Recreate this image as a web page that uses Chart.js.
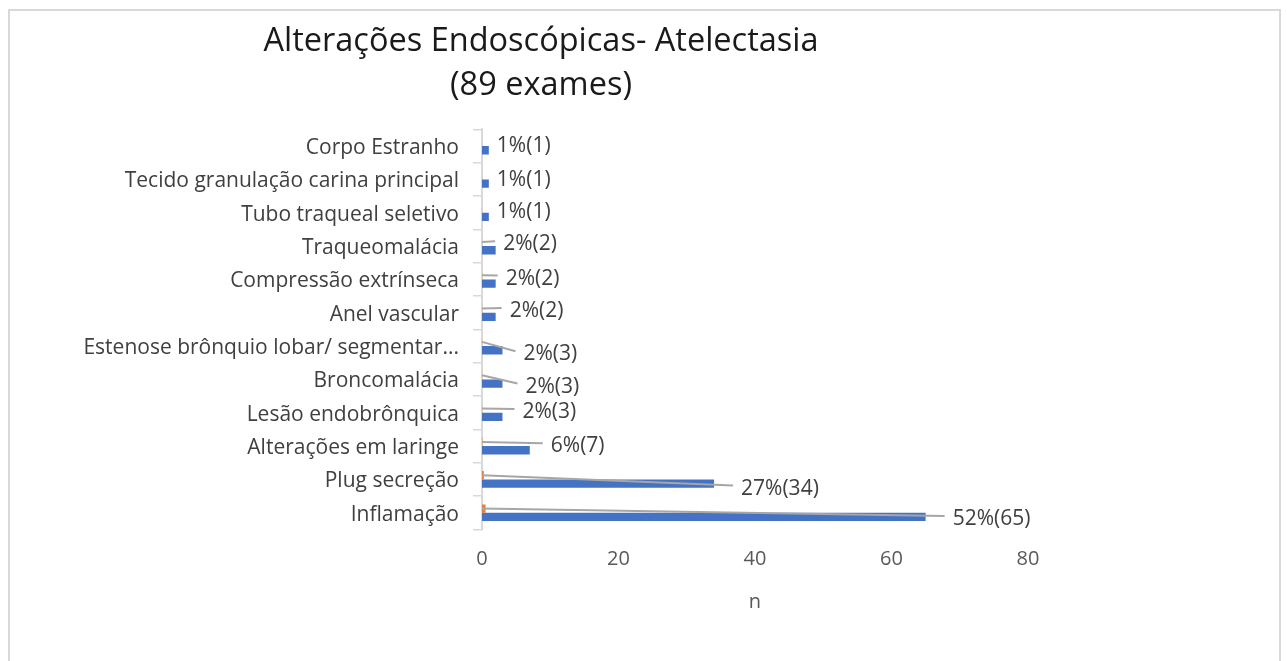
<!DOCTYPE html>
<html>
<head>
<meta charset="utf-8">
<script src="https://cdn.jsdelivr.net/npm/chart.js@4"></script>
<style>
  html, body { margin: 0; padding: 0; background: #ffffff; overflow: hidden; }
  #frame { position: absolute; left: 8px; top: 9px; width: 1273px; height: 700px; border: 2px solid #d9d9d9; box-sizing: border-box; pointer-events: none; }
  #c { position: absolute; left: 0; top: 0; }
</style>
</head>
<body>
<div id="frame"></div>
<canvas id="c" width="1287" height="661"></canvas>
<script>
// ---- data (top-to-bottom order as displayed) ----
const categories = [
  'Corpo Estranho',
  'Tecido granulação carina principal',
  'Tubo traqueal seletivo',
  'Traqueomalácia',
  'Compressão extrínseca',
  'Anel vascular',
  'Estenose brônquio lobar/ segmentar...',
  'Broncomalácia',
  'Lesão endobrônquica',
  'Alterações em laringe',
  'Plug secreção',
  'Inflamação'
];
const counts = [1, 1, 1, 2, 2, 2, 3, 3, 3, 7, 34, 65];
const percentLabels = [1, 1, 1, 2, 2, 2, 2, 2, 2, 6, 27, 52];
const shareSeries = [0.01, 0.01, 0.01, 0.02, 0.02, 0.02, 0.02, 0.02, 0.02, 0.06, 0.27, 0.52];
const xTicks = [0, 20, 40, 60, 80];
const titleLines = ['Alterações Endoscópicas- Atelectasia', '(89 exames)'];
const xAxisTitle = 'n';

const FONT = '"Open Sans", sans-serif';

// label placement style (dx from bar end, dy from bar centre, leader line)
const labelStyle = [
  [8, -4, false], [8, -4, false], [8, -5, false],
  [7.5, -6, true], [10, -5, true], [14, -6, true],
  [21, 4, true], [23, 3, true], [20, -5, true],
  [21, -4, true], [27, 5, true], [27, 2, true]
];

const dataLabelPlugin = {
  id: 'dataLabels',
  afterDatasetsDraw(chart) {
    const ctx = chart.ctx;
    const xs = chart.scales.x;
    const x0 = xs.getPixelForValue(0);
    const metaO = chart.getDatasetMeta(0);
    const metaB = chart.getDatasetMeta(1);
    ctx.save();
    ctx.font = '21px ' + FONT;
    ctx.textBaseline = 'middle';
    ctx.textAlign = 'left';
    metaB.data.forEach((bar, i) => {
      const st = labelStyle[i];
      const lx = bar.x + st[0];
      const ly = bar.y + st[1];
      if (st[2]) {
        const oy = metaO.data[i].y;
        ctx.strokeStyle = '#a6a6a6';
        ctx.lineWidth = 2;
        ctx.beginPath();
        ctx.moveTo(x0, oy);
        ctx.lineTo(lx - 8, ly - 3);
        ctx.stroke();
      }
      ctx.fillStyle = '#404040';
      ctx.fillText(percentLabels[i] + '%(' + counts[i] + ')', lx, ly);
    });
    ctx.restore();
  }
};

new Chart(document.getElementById('c'), {
  type: 'bar',
  data: {
    labels: categories,
    datasets: [
      { label: '%', data: shareSeries, backgroundColor: '#ED7D31', borderWidth: 0,
        categoryPercentage: 0.5, barPercentage: 1 },
      { label: 'n', data: counts, backgroundColor: '#4472C4', borderWidth: 0,
        categoryPercentage: 0.5, barPercentage: 1 }
    ]
  },
  options: {
    indexAxis: 'y',
    responsive: false,
    animation: false,
    devicePixelRatio: 1,
    layout: { padding: { left: 54, right: 259, top: 0, bottom: 46.6 } },
    plugins: {
      legend: { display: false },
      tooltip: { enabled: false },
      title: {
        display: true,
        text: titleLines,
        color: '#1a1a1a',
        font: { family: FONT, size: 32.5, weight: 'normal', lineHeight: 44 / 32.5 },
        padding: { top: 20, bottom: 21.4 }
      }
    },
    scales: {
      y: {
        type: 'category',
        grid: { display: true, drawOnChartArea: false, drawTicks: true, tickLength: 9, color: '#d9d9d9', lineWidth: 1.5, offset: true },
        border: { display: true, color: '#d9d9d9', width: 2 },
        ticks: { font: { family: FONT, size: 21 }, color: '#404040', padding: 14, autoSkip: false, labelOffset: 2 },
        afterFit(scale) { scale.width = 428; }
      },
      x: {
        min: 0, max: 80,
        afterBuildTicks(scale) { scale.ticks = xTicks.map(v => ({ value: v })); },
        grid: { display: false, drawTicks: false },
        border: { display: false },
        ticks: { font: { family: FONT, size: 20 }, color: '#595959', padding: 18 },
        title: { display: true, text: xAxisTitle, color: '#595959', font: { family: FONT, size: 20 }, padding: 0 },
        afterFit(scale) { scale.height = 85; }
      }
    }
  },
  plugins: [dataLabelPlugin]
});
</script>
</body>
</html>
